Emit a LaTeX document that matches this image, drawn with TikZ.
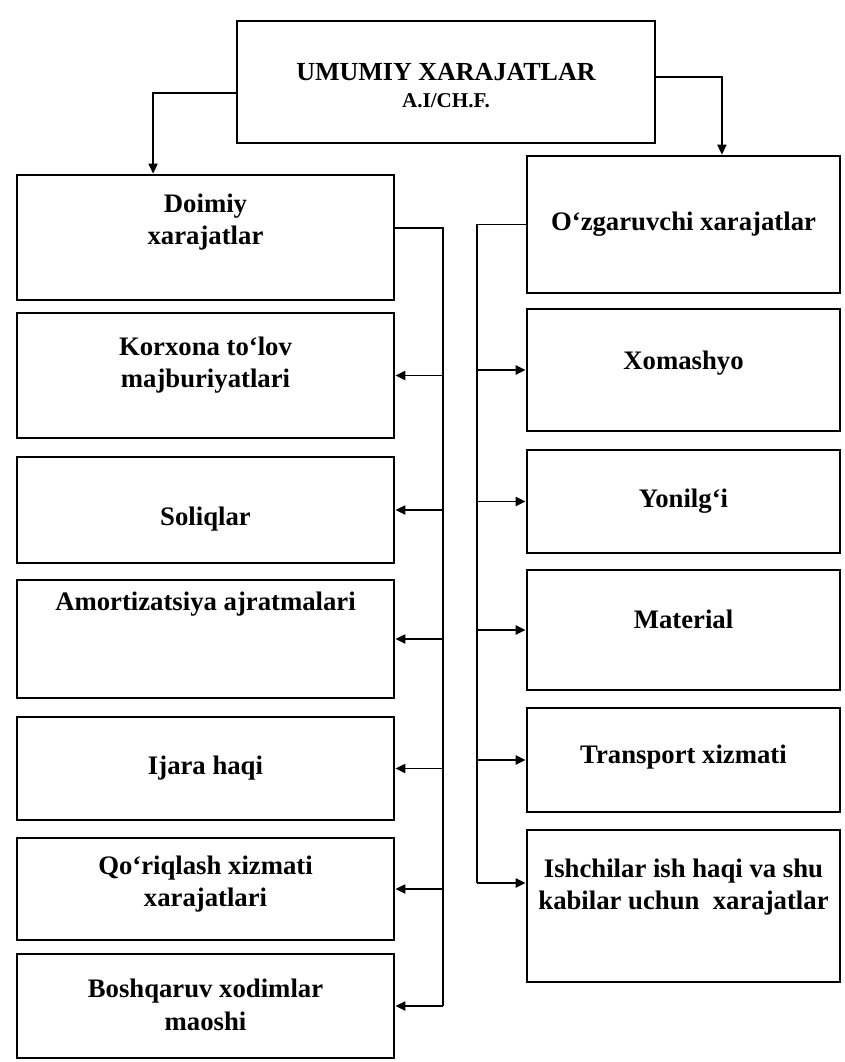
\documentclass[tikz,border=0pt]{standalone}
\usepackage{fontspec}
\setmainfont{Liberation Serif}
\usepackage{tikz}
\usetikzlibrary{arrows.meta, positioning, calc}
\tikzset{
  topbox/.style={rectangle, draw, line width=2pt, inner sep=0pt,
    minimum width=10.45cm, minimum height=3.05cm, align=center},
  lbox/.style={rectangle, draw, line width=2pt, inner sep=0pt,
    minimum width=9.425cm, align=center, font=\bfseries\fontsize{19}{23}\selectfont},
  rbox/.style={rectangle, draw, line width=2pt, inner sep=0pt,
    minimum width=7.825cm, align=center, font=\bfseries\fontsize{19}{23}\selectfont},
  txt/.style={align=center, inner sep=0pt, font=\bfseries\fontsize{19}{23}\selectfont},
  arrow/.style={-{Triangle[length=7pt,width=6.5pt]}, line width=1pt},
  line/.style={line width=1pt}
}

\begin{document}
\begin{tikzpicture}[x=0.025cm, y=-0.025cm]
  \useasboundingbox (0,0) rectangle (844,1062);
  % Top box
  \node[topbox] (top) at (446,82) {};
  \node[txt, font=\bfseries\fontsize{18.5}{22}\selectfont] (topt1) at (446,72) {UMUMIY XARAJATLAR};
  \node[txt, font=\bfseries\fontsize{15}{18}\selectfont] (topt2) at (446,101) {A.I/CH.F.};
  % Left column
  \node[lbox, minimum height=3.125cm] (d1) at (205.5,237.5) {};
  \node[txt] (d1t) at (205.5,222) {Doimiy\\xarajatlar};
  \node[lbox, minimum height=3.125cm] (k2) at (205.5,375.5) {};
  \node[txt] (k2t) at (205.5,365) {Korxona to‘lov\\majburiyatlari};
  \node[lbox, minimum height=2.65cm] (s3) at (205.5,510) {};
  \node[txt] (s3t) at (205.5,519) {Soliqlar};
  \node[lbox, minimum height=2.95cm] (a4) at (205.5,639) {};
  \node[txt] (a4t) at (205.5,604) {Amortizatsiya ajratmalari};
  \node[lbox, minimum height=2.575cm] (i5) at (205.5,768.5) {Ijara haqi};
  \node[lbox, minimum height=2.55cm] (q6) at (205.5,889) {};
  \node[txt] (q6t) at (205.5,884) {Qo‘riqlash xizmati\\xarajatlari};
  \node[lbox, minimum height=2.6cm] (b7) at (205.5,1006) {};
  \node[txt] (b7t) at (205.5,1005) {Boshqaruv xodimlar\\maoshi};
  % Right column
  \node[rbox, minimum height=3.425cm] (o1) at (683.5,224.5) {O‘zgaruvchi xarajatlar};
  \node[rbox, minimum height=3.05cm] (x2) at (683.5,370) {};
  \node[txt] (x2t) at (683.5,363) {Xomashyo};
  \node[rbox, minimum height=2.575cm] (y3) at (683.5,501.5) {Yonilg‘i};
  \node[rbox, minimum height=3cm] (m4) at (683.5,630) {};
  \node[txt] (m4t) at (683.5,619) {Material};
  \node[rbox, minimum height=2.6cm] (t5) at (683.5,760) {};
  \node[txt] (t5t) at (683.5,757) {Transport xizmati};
  \node[rbox, minimum height=3.8cm] (i6) at (683.5,906) {};
  \node[txt] (i6t) at (683.5,887) {Ishchilar ish haqi va shu\\kabilar uchun~ xarajatlar};
  % From the top box
  \draw[arrow] ([yshift=-0.275cm]top.west) -| ([xshift=-1.31cm]d1.north);
  \draw[arrow] ([yshift=0.125cm]top.east) -| ([xshift=0.96cm]o1.north);
  % Left bus
  \coordinate (lbus) at (443,228);
  \draw[line] (d1.east |- lbus) -- (lbus) -- (lbus |- b7.east);
  \foreach \n in {k2,s3,a4,i5,q6,b7}
    \draw[arrow] (lbus |- \n.east) -- (\n.east);
  % Right bus
  \coordinate (rbus) at (477,224.5);
  \coordinate (i6in) at ([yshift=0.575cm]i6.west);
  \draw[line] (o1.west) -- (rbus) -- (rbus |- i6in);
  \foreach \n in {x2,y3,m4,t5}
    \draw[arrow] (rbus |- \n.west) -- (\n.west);
  \draw[arrow] (rbus |- i6in) -- (i6in);
\end{tikzpicture}
\end{document}
